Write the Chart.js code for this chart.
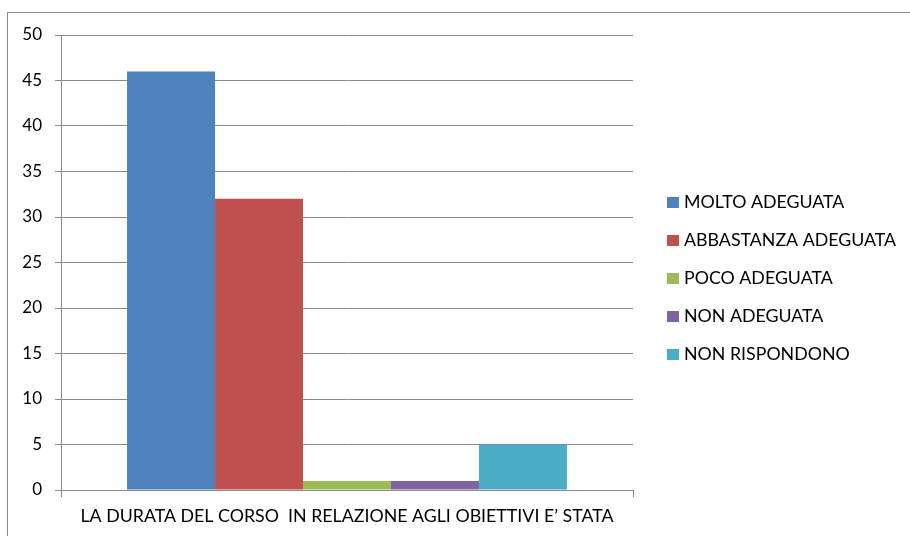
<!DOCTYPE html>
<html>
<head>
<meta charset="utf-8">
<script src="https://cdn.jsdelivr.net/npm/chart.js@4"></script>
<style>
  html, body { margin: 0; padding: 0; background: #fff; }
  #wrap { position: relative; width: 910px; height: 536px; }
</style>
</head>
<body>
<div id="wrap"><canvas id="chart" width="910" height="536"></canvas></div>
<script>
const categories = ["LA DURATA DEL CORSO  IN RELAZIONE AGLI OBIETTIVI E\u2019 STATA"];
const seriesNames = ["MOLTO ADEGUATA", "ABBASTANZA ADEGUATA", "POCO ADEGUATA", "NON ADEGUATA", "NON RISPONDONO"];
const seriesValues = [[46], [32], [1], [1], [5]];
const seriesColors = ["#4F81BD", "#C0504D", "#9BBB59", "#8064A2", "#4BACC6"];

const FONT = "Lato, 'Open Sans', sans-serif";
const GRID = "#8a8a8a";

// frame + legend drawn by hand so they sit where the original has them
const framePlugin = {
  id: "frame",
  beforeDraw(chart) {
    const ctx = chart.ctx;
    ctx.save();
    ctx.strokeStyle = GRID;
    ctx.lineWidth = 1;
    ctx.strokeRect(7.5, 12.5, 1000, 1000);
    ctx.restore();
  },
  afterDraw(chart) {
    const ctx = chart.ctx;
    ctx.save();
    ctx.font = "17.8px " + FONT;
    ctx.textBaseline = "middle";
    chart.data.datasets.forEach((ds, i) => {
      const y = 202 + i * 38;
      ctx.fillStyle = ds.backgroundColor;
      ctx.fillRect(667, y - 5, 12, 11);
      ctx.fillStyle = "#000";
      ctx.fillText(ds.label, 684, y);
    });
    ctx.restore();
  }
};

new Chart(document.getElementById("chart"), {
  type: "bar",
  data: {
    labels: categories,
    datasets: seriesNames.map((name, i) => ({
      label: name,
      data: seriesValues[i],
      backgroundColor: seriesColors[i],
      borderWidth: 0,
      barPercentage: 1,
      categoryPercentage: 0.769
    }))
  },
  options: {
    responsive: false,
    animation: false,
    layout: { padding: { left: 0, top: 35, right: 277, bottom: 0 } },
    plugins: {
      legend: { display: false },
      tooltip: { enabled: false }
    },
    scales: {
      x: {
        grid: { drawOnChartArea: false, drawTicks: true, tickLength: 7, color: GRID, offset: true },
        border: { display: true, color: GRID },
        ticks: { color: "#000", font: { family: FONT, size: 17.8 }, padding: 9, maxRotation: 0 },
        afterFit(scale) { scale.height = 46; }
      },
      y: {
        min: 0,
        max: 50,
        ticks: { stepSize: 5, color: "#000", font: { family: FONT, size: 17 }, padding: 13 },
        grid: { color: GRID, tickLength: 6 },
        border: { display: true, color: GRID },
        afterFit(scale) { scale.width = 61; }
      }
    }
  },
  plugins: [framePlugin]
});
</script>
</body>
</html>
